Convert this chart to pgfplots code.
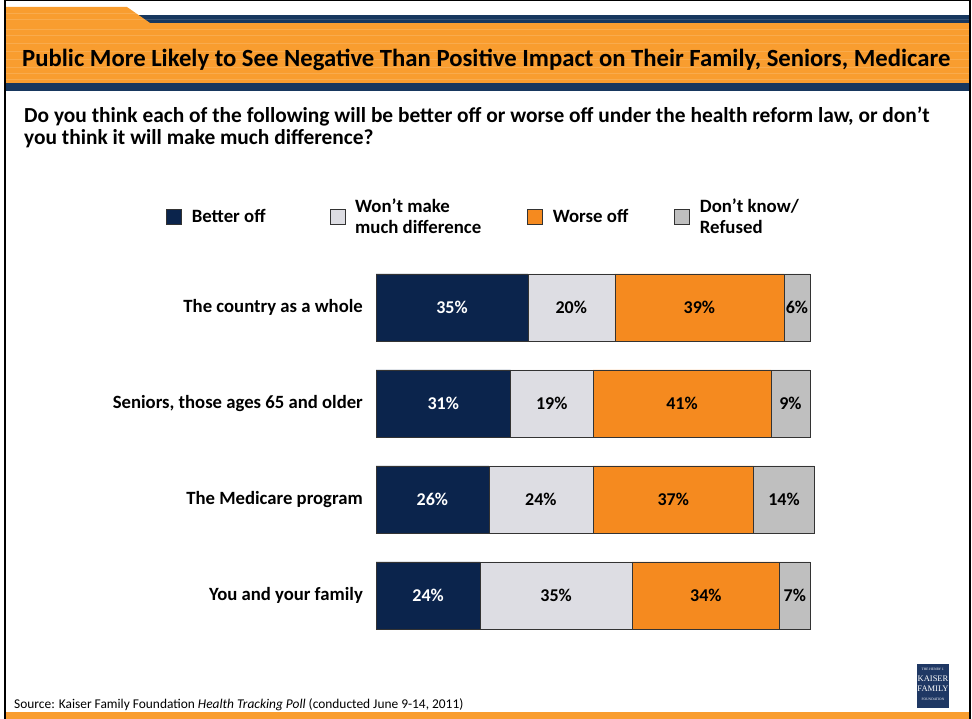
\documentclass[border=0pt]{standalone}
\usepackage{fontspec}
\setmainfont{Carlito}
\newfontfamily\logofont{Liberation Serif}
\usepackage{pgfplots}
\usepackage{pgfplotstable}
\pgfplotsset{compat=1.18}
\definecolor{barnavy}{HTML}{0B244C}
\definecolor{barlight}{HTML}{DDDDE3}
\definecolor{barorange}{HTML}{F58A1F}
\definecolor{bargray}{HTML}{BFBFBF}
\definecolor{hdrorange}{HTML}{F99D2F}
\definecolor{hdrnavy}{HTML}{17375E}
\definecolor{logonavy}{HTML}{1F3864}

\pgfplotstableread{
y better neutral worse dk
4 35 20 39 6
3 31 19 41 9
2 26 24 37 14
1 24 35 34 7
}\datatable

\newcommand{\fs}[1]{\fontsize{#1}{#1}\selectfont}

\begin{document}
\begin{tikzpicture}[x=1pt,y=1pt]
\path[use as bounding box] (0,0) rectangle (972,719);
% header
\fill[hdrnavy] (6,628) rectangle (969,704);
\fill[hdrorange] (6,636) rectangle (969,696);
\fill[hdrorange] (6,712) -- (127,712) -- (150,696) -- (6,696) -- cycle;
\foreach \yy in {640,646,652,660,668,676,684,690,700,706} {
  \draw[white, opacity=0.15, line width=0.5] (6,\yy) -- (969,\yy);
}
% bottom bar
\fill[hdrorange] (6,0) rectangle (969,7);
% frame
\draw[black, line width=1.5] (5,0) -- (5,718.25) -- (970,718.25) -- (970,0);
% title
\node[anchor=base west, inner sep=0] at (22,652) {\fs{24.7}\bfseries Public More Likely to See Negative Than Positive Impact on Their Family, Seniors, Medicare};
% question
\node[anchor=base west, inner sep=0] at (24,596) {\fs{21.4}\bfseries Do you think each of the following will be better off or worse off under the health reform law, or don’t};
\node[anchor=base west, inner sep=0] at (24,574) {\fs{21.4}\bfseries you think it will make much difference?};
% source
\node[anchor=base west, inner sep=0] at (14,10) {\fs{13.4}Source: Kaiser Family Foundation \textit{Health Tracking Poll} (conducted June 9-14, 2011)};
% logo
\fill[logonavy] (917,11) rectangle (949,55);
\node[white, inner sep=0] at (933,50) {\logofont\fs{3.5}THE HENRY J.};
\node[white, inner sep=0] at (933,40.5) {\logofont\fs{8.5}KAISER};
\node[white, inner sep=0] at (933,30) {\logofont\fs{8.5}FAMILY};
\node[white, inner sep=0] at (933,20) {\logofont\fs{3.5}FOUNDATION};

\begin{axis}[
  at={(376pt,75.5pt)}, anchor=south west,
  scale only axis, width=434pt, height=384pt,
  xbar stacked, bar width=67pt,
  xmin=0, xmax=100, ymin=0.5, ymax=4.5,
  clip=false,
  axis line style={draw=none},
  major tick length=0pt,
  xtick=\empty,
  ytick={1,2,3,4},
  yticklabels={You and your family, The Medicare program, {Seniors, those ages 65 and older}, The country as a whole},
  yticklabel style={font=\fs{18.7}\bfseries, inner sep=0pt, xshift=-13pt},
  /pgf/number format/assume math mode=true,
  point meta=explicit,
  nodes near coords={\pgfmathprintnumber{\pgfplotspointmeta}\%},
  every node near coord/.append style={font=\fs{18}\bfseries, anchor=center},
  legend style={at={(axis description cs:-0.4839,1.1107)}, anchor=west, draw=none, fill=none, inner sep=0pt,
    font=\fontsize{18.8}{21}\selectfont\bfseries, cells={anchor=west, align=left},
    /tikz/every odd column/.append style={column sep=8pt},
    /tikz/every even column/.append style={column sep=44pt}},
  legend columns=4,
  legend image code/.code={\draw[#1, draw=black!80, line width=0.6pt] (0pt,-7.5pt) rectangle (15pt,7.5pt);},
]
\addplot[fill=barnavy, draw=black!80,
  every node near coord/.append style={text=white}] table[x=better, y=y, meta=better] {\datatable};
\addlegendentry{Better off\hspace*{18pt}}
\addplot[fill=barlight, draw=black!80,
  every node near coord/.append style={text=black}] table[x=neutral, y=y, meta=neutral] {\datatable};
\addlegendentry{Won’t make\\much difference}
\addplot[fill=barorange, draw=black!80,
  every node near coord/.append style={text=black}] table[x=worse, y=y, meta=worse] {\datatable};
\addlegendentry{Worse off}
\addplot[fill=bargray, draw=black!80,
  every node near coord/.append style={text=black}] table[x=dk, y=y, meta=dk] {\datatable};
\addlegendentry{Don’t know/\\Refused}
\end{axis}
\end{tikzpicture}
\end{document}
